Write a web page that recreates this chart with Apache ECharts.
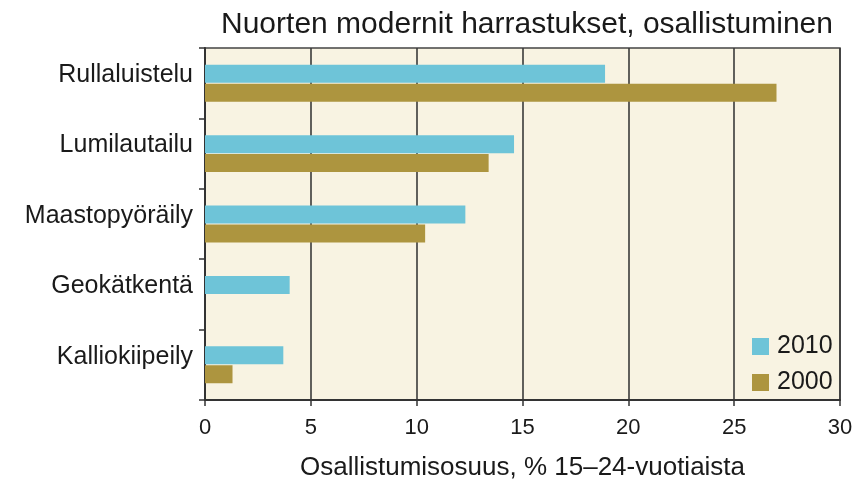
<!DOCTYPE html>
<html>
<head>
<meta charset="utf-8">
<script src="https://cdn.jsdelivr.net/npm/echarts@6/dist/echarts.min.js"></script>
<style>html,body{margin:0;padding:0;background:#fff}#c{width:859px;height:481px}</style>
</head>
<body>
<div id="c"></div>
<script>
const categories = ['Rullaluistelu','Lumilautailu','Maastopyöräily','Geokätkentä','Kalliokiipeily'];
const values2010 = [18.9, 14.6, 12.3, 4.0, 3.7];
const values2000 = [27.0, 13.4, 10.4, null, 1.3];
const xTicks = [0, 5, 10, 15, 20, 25, 30];

const chart = echarts.init(document.getElementById('c'));
const font = 'Liberation Sans, Arial, sans-serif';
chart.setOption({
  animation: false,
  backgroundColor: '#ffffff',
  title: {
    text: 'Nuorten modernit harrastukset, osallistuminen',
    left: 522, top: 5, textAlign: 'center',
    textStyle: {fontFamily: font, fontSize: 30, fontWeight: 'normal', color: '#1a1a1a'}
  },
  legend: {
    orient: 'vertical', left: 747, top: 329,
    itemWidth: 17, itemHeight: 17, itemGap: 11,
    icon: 'rect',
    textStyle: {fontFamily: font, fontSize: 25, color: '#1a1a1a', padding: [0, 0, 0, 3]},
    data: ['2010','2000']
  },
  grid: {left: 205, right: 19, top: 48, bottom: 81, show: true, outerBoundsMode: 'none', containLabel: false,
         backgroundColor: '#f8f3e2', borderColor: '#444', borderWidth: 1.5},
  xAxis: {
    type: 'value', min: xTicks[0], max: xTicks[xTicks.length-1], interval: 5,
    axisLine: {show: true, lineStyle: {color: '#333', width: 2}},
    axisTick: {show: true, length: 6, lineStyle: {color: '#333', width: 1.5}},
    axisLabel: {fontFamily: font, fontSize: 22, color: '#1a1a1a', margin: 17},
    splitLine: {show: true, lineStyle: {color: '#3a3a3a', width: 1.6}},
    name: 'Osallistumisosuus, % 15–24-vuotiaista',
    nameLocation: 'middle', nameGap: 55,
    nameTextStyle: {fontFamily: font, fontSize: 26, color: '#1a1a1a'}
  },
  yAxis: {
    type: 'category', data: categories, inverse: true,
    axisLine: {show: true, lineStyle: {color: '#333', width: 2}},
    axisTick: {show: true, length: 6, lineStyle: {color: '#333', width: 1.5}},
    axisLabel: {fontFamily: font, fontSize: 25, color: '#1a1a1a', margin: 12, verticalAlign: 'bottom', lineHeight: 16}
  },
  series: [
    {name: '2010', type: 'bar', data: values2010, barWidth: 18, barGap: '5%', itemStyle: {color: '#6ec4d8'}},
    {name: '2000', type: 'bar', data: values2000, barWidth: 18, barGap: '5%', itemStyle: {color: '#ad953f'}}
  ]
});
</script>
</body>
</html>
